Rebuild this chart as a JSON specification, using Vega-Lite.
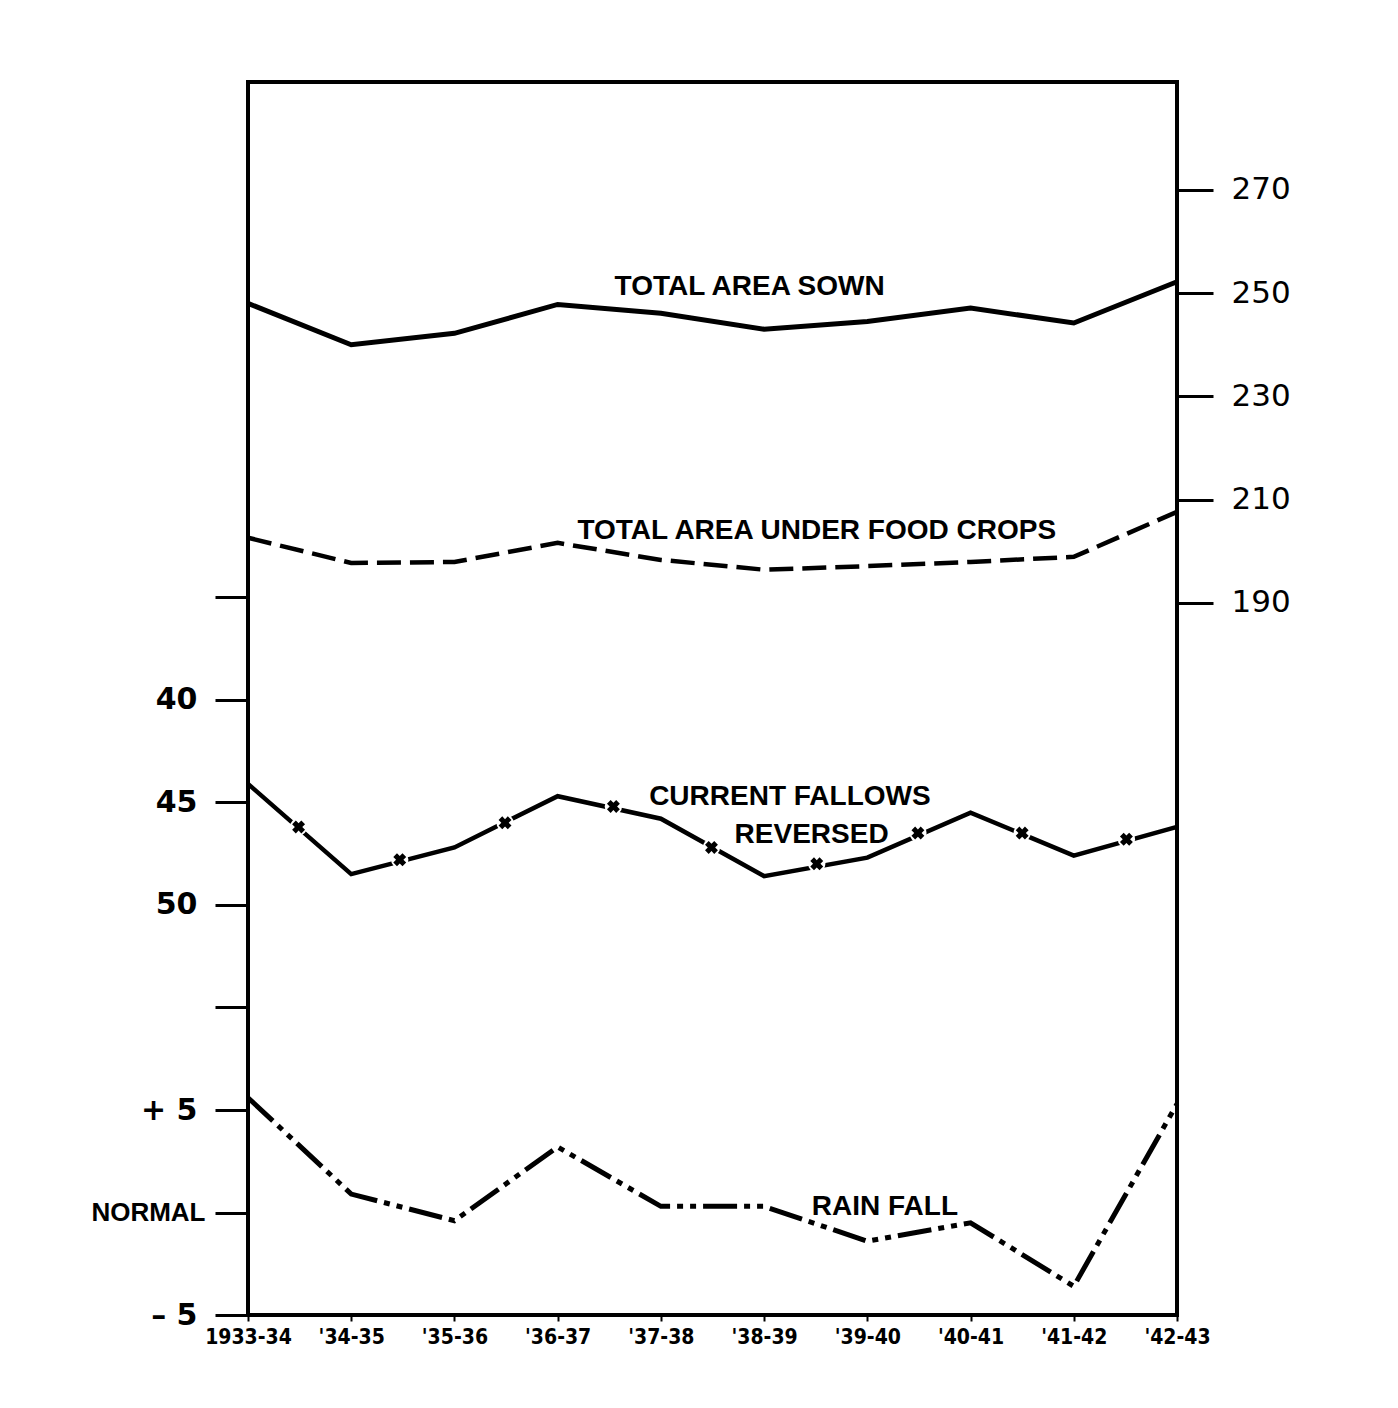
{
  "$schema": "https://vega.github.io/schema/vega-lite/v6.json",
  "width": 929,
  "height": 1233,
  "autosize": {"type": "none"},
  "padding": {"left": 248, "top": 82, "right": 221, "bottom": 93},
  "background": "white",
  "config": {
    "view": {"stroke": "black", "strokeWidth": 4},
    "axis": {"grid": false, "domain": false, "labelColor": "black", "tickColor": "black"}
  },
  "datasets": {
    "sown": [
      {"year": 1933, "value": 248.0}, {"year": 1934, "value": 240.0}, {"year": 1935, "value": 242.2},
      {"year": 1936, "value": 247.8}, {"year": 1937, "value": 246.1}, {"year": 1938, "value": 243.0},
      {"year": 1939, "value": 244.5}, {"year": 1940, "value": 247.1}, {"year": 1941, "value": 244.2},
      {"year": 1942, "value": 252.2}
    ],
    "food": [
      {"year": 1933, "value": 202.6}, {"year": 1934, "value": 197.7}, {"year": 1935, "value": 197.9},
      {"year": 1936, "value": 201.6}, {"year": 1937, "value": 198.3}, {"year": 1938, "value": 196.4},
      {"year": 1939, "value": 197.1}, {"year": 1940, "value": 197.9}, {"year": 1941, "value": 198.9},
      {"year": 1942, "value": 207.6}
    ],
    "fallows": [
      {"year": 1933, "value": 44.1}, {"year": 1934, "value": 48.5}, {"year": 1935, "value": 47.2},
      {"year": 1936, "value": 44.7}, {"year": 1937, "value": 45.8}, {"year": 1938, "value": 48.6},
      {"year": 1939, "value": 47.7}, {"year": 1940, "value": 45.5}, {"year": 1941, "value": 47.6},
      {"year": 1942, "value": 46.2}
    ],
    "markers": [
      {"year": 1933.49, "value": 46.2}, {"year": 1934.47, "value": 47.8}, {"year": 1935.49, "value": 46.0},
      {"year": 1936.54, "value": 45.2}, {"year": 1937.49, "value": 47.2}, {"year": 1938.51, "value": 48.0},
      {"year": 1939.49, "value": 46.5}, {"year": 1940.5, "value": 46.5}, {"year": 1941.51, "value": 46.8}
    ],
    "rain": [
      {"year": 1933, "value": 5.6}, {"year": 1934, "value": 0.9}, {"year": 1935, "value": -0.4},
      {"year": 1936, "value": 3.2}, {"year": 1937, "value": 0.3}, {"year": 1938, "value": 0.3},
      {"year": 1939, "value": -1.4}, {"year": 1940, "value": -0.5}, {"year": 1941, "value": -3.6},
      {"year": 1942, "value": 5.3}
    ],
    "areaLabels": [
      {"year": 1937.86, "value": 251.2, "text": "TOTAL AREA SOWN"},
      {"year": 1938.51, "value": 203.9, "text": "TOTAL AREA UNDER FOOD CROPS"}
    ],
    "fallowLabels": [
      {"year": 1938.25, "value": 44.74, "text": "CURRENT FALLOWS"},
      {"year": 1938.46, "value": 46.59, "text": "REVERSED"}
    ],
    "rainLabels": [
      {"year": 1939.17, "value": 0.27, "text": "RAIN FALL"}
    ]
  },
  "encoding": {
    "x": {
      "field": "year",
      "type": "quantitative",
      "title": null,
      "scale": {"domain": [1933, 1942], "nice": false, "zero": false},
      "axis": {
        "values": [1933, 1934, 1935, 1936, 1937, 1938, 1939, 1940, 1941, 1942],
        "labelExpr": "datum.value == 1933 ? '1933-34' : \"'\" + (datum.value - 1900) + '-' + (datum.value - 1899)",
        "labelFont": "Liberation Sans Narrow, DejaVu Sans Condensed, Liberation Sans",
        "labelFontSize": 21,
        "labelFontWeight": "bold",
        "labelOverlap": false,
        "labelFlush": false,
        "labelBound": false,
        "labelAlign": "center",
        "tickSize": 6,
        "tickWidth": 2,
        "labelPadding": 5,
        "domain": false
      }
    }
  },
  "layer": [
    {
      "data": {"name": "sown"},
      "mark": {"type": "line", "color": "black", "strokeWidth": 5},
      "encoding": {
        "y": {
          "field": "value", "type": "quantitative", "title": null,
          "scale": {"domain": [52.0, 290.9], "nice": false, "zero": false},
          "axis": {
            "orient": "right",
            "values": [190, 210, 230, 250, 270],
            "tickSize": 36, "tickWidth": 3,
            "labelPadding": 18,
            "labelFont": "DejaVu Sans", "labelFontSize": 31,
            "labelBaseline": "middle"
          }
        }
      }
    },
    {
      "data": {"name": "food"},
      "mark": {"type": "line", "color": "black", "strokeWidth": 4.5, "strokeDash": [24, 9]},
      "encoding": {
        "y": {
          "field": "value", "type": "quantitative",
          "scale": {"domain": [52.0, 290.9], "nice": false, "zero": false},
          "axis": null
        }
      }
    },
    {
      "data": {"name": "areaLabels"},
      "mark": {"type": "text", "font": "Liberation Sans", "fontWeight": "bold", "fontSize": 28, "color": "black", "align": "center", "baseline": "middle"},
      "encoding": {
        "y": {
          "field": "value", "type": "quantitative",
          "scale": {"domain": [52.0, 290.9], "nice": false, "zero": false},
          "axis": null
        },
        "text": {"field": "text"}
      }
    },
    {
      "data": {"name": "fallows"},
      "mark": {"type": "line", "color": "black", "strokeWidth": 4.5},
      "encoding": {
        "y": {
          "field": "value", "type": "quantitative", "title": null,
          "scale": {"domain": [9.86, 70.01], "nice": false, "zero": false, "reverse": true},
          "axis": {
            "orient": "left",
            "values": [35, 40, 45, 50, 55],
            "labelExpr": "datum.value == 35 || datum.value == 55 ? '' : datum.label",
            "tickSize": 33, "tickWidth": 3,
            "labelPadding": 18,
            "labelFont": "DejaVu Sans", "labelFontSize": 30, "labelFontWeight": "bold",
            "labelBaseline": "middle"
          }
        }
      }
    },
    {
      "data": {"name": "markers"},
      "mark": {"type": "point", "shape": "circle", "filled": true, "color": "white", "opacity": 1, "size": 300},
      "encoding": {
        "y": {
          "field": "value", "type": "quantitative",
          "scale": {"domain": [9.86, 70.01], "nice": false, "zero": false, "reverse": true},
          "axis": null
        }
      }
    },
    {
      "data": {"name": "markers"},
      "mark": {"type": "point", "shape": "cross", "angle": 45, "filled": true, "color": "black", "opacity": 1, "size": 170},
      "encoding": {
        "y": {
          "field": "value", "type": "quantitative",
          "scale": {"domain": [9.86, 70.01], "nice": false, "zero": false, "reverse": true},
          "axis": null
        }
      }
    },
    {
      "data": {"name": "fallowLabels"},
      "mark": {"type": "text", "font": "Liberation Sans", "fontWeight": "bold", "fontSize": 28, "color": "black", "align": "center", "baseline": "middle"},
      "encoding": {
        "y": {
          "field": "value", "type": "quantitative",
          "scale": {"domain": [9.86, 70.01], "nice": false, "zero": false, "reverse": true},
          "axis": null
        },
        "text": {"field": "text"}
      }
    },
    {
      "data": {"name": "rain"},
      "mark": {"type": "line", "color": "black", "strokeWidth": 5, "strokeDash": [34, 7, 6, 7, 6, 7]},
      "encoding": {
        "y": {
          "field": "value", "type": "quantitative", "title": null,
          "scale": {"domain": [-5, 55.15], "nice": false, "zero": false},
          "axis": {
            "orient": "left",
            "values": [-5, 0, 5],
            "labelExpr": "datum.value == 0 ? 'NORMAL' : (datum.value > 0 ? '+ 5' : '\u2013 5')",
            "tickSize": 33, "tickWidth": 3,
            "labelPadding": {"condition": {"test": "datum.value == 0", "value": 10}, "value": 18},
            "labelFont": {"condition": {"test": "datum.value == 0", "value": "Liberation Sans"}, "value": "DejaVu Sans"},
            "labelFontSize": {"condition": {"test": "datum.value == 0", "value": 26}, "value": 30},
            "labelFontWeight": "bold",
            "labelBaseline": "middle"
          }
        }
      }
    },
    {
      "data": {"name": "rainLabels"},
      "mark": {"type": "text", "font": "Liberation Sans", "fontWeight": "bold", "fontSize": 28, "color": "black", "align": "center", "baseline": "middle"},
      "encoding": {
        "y": {
          "field": "value", "type": "quantitative",
          "scale": {"domain": [-5, 55.15], "nice": false, "zero": false},
          "axis": null
        },
        "text": {"field": "text"}
      }
    }
  ],
  "resolve": {"scale": {"y": "independent"}, "axis": {"y": "independent"}}
}
